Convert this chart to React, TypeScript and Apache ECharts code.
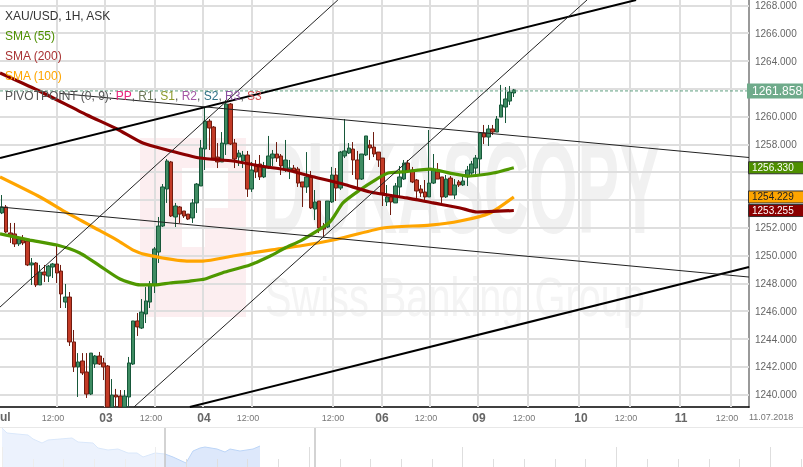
import React, { useEffect, useRef } from "react";
import * as echarts from "echarts";

const FONT = '"Liberation Sans", Arial, sans-serif';

// [open, close, low, high] per hourly bar
const ohlc: number[][] = [
  [1253.08,1253.51,1253.00,1254.37],[1253.51,1251.71,1251.64,1253.65],[1251.64,1251.49,1250.92,1252.36],[1251.57,1250.85,1250.63,1252.36],
  [1250.85,1251.21,1250.70,1251.35],[1251.13,1250.92,1250.77,1251.49],[1251.06,1249.34,1249.26,1251.13],[1249.34,1249.48,1247.90,1249.84],
  [1249.48,1247.90,1247.75,1249.55],[1247.90,1248.83,1247.90,1249.34],[1248.83,1248.62,1248.11,1249.34],[1248.54,1249.26,1248.11,1249.34],
  [1249.19,1249.41,1248.40,1249.48],[1249.41,1248.76,1248.04,1250.77],[1248.90,1247.25,1246.24,1249.34],[1246.67,1247.03,1246.24,1247.97],
  [1247.03,1243.80,1243.51,1247.39],[1243.80,1242.00,1241.64,1244.66],[1242.00,1242.36,1239.84,1243.00],[1242.43,1241.57,1241.42,1243.00],
  [1241.64,1240.05,1239.77,1243.00],[1240.05,1243.00,1239.98,1243.00],[1242.21,1242.79,1241.93,1242.86],[1242.79,1242.21,1242.14,1243.08],
  [1242.29,1242.00,1241.06,1242.65],[1242.07,1237.47,1237.20,1242.14],[1237.83,1239.98,1237.50,1241.13],[1239.98,1239.84,1238.90,1240.42],
  [1239.91,1238.00,1237.80,1240.34],[1238.00,1239.91,1237.80,1240.34],[1239.84,1242.29,1239.12,1242.72],[1242.21,1245.31,1242.14,1245.31],
  [1245.31,1244.88,1244.23,1245.88],[1244.80,1245.95,1244.73,1246.89],[1245.81,1246.75,1245.16,1247.75],[1246.67,1247.97,1246.24,1248.18],
  [1247.90,1250.49,1247.32,1250.63],[1250.27,1252.14,1249.48,1252.79],[1252.14,1254.95,1252.07,1255.16],[1254.80,1256.82,1253.80,1256.96],
  [1256.75,1252.86,1252.79,1256.82],[1252.79,1253.58,1252.07,1253.80],[1253.51,1253.00,1252.36,1253.58],[1253.22,1252.86,1252.72,1253.22],
  [1253.00,1252.64,1252.57,1253.00],[1252.72,1253.80,1252.36,1254.08],[1253.80,1255.16,1253.08,1255.23],[1255.02,1257.75,1255.02,1258.33],
  [1257.68,1259.69,1256.17,1260.63],[1259.69,1259.19,1257.61,1259.84],[1259.26,1257.03,1256.89,1259.33],[1257.10,1256.75,1256.31,1258.11],
  [1256.75,1258.11,1256.75,1258.90],[1258.04,1260.92,1257.25,1261.20],[1260.92,1258.04,1257.97,1260.99],[1258.11,1256.96,1256.31,1258.40],
  [1257.10,1257.39,1256.46,1257.61],[1256.82,1257.25,1256.31,1257.54],[1257.25,1254.80,1254.23,1257.54],[1254.80,1256.17,1254.59,1256.75],
  [1256.53,1256.03,1255.59,1256.89],[1256.60,1255.67,1255.45,1257.25],[1255.67,1256.39,1255.59,1256.75],[1256.31,1257.18,1256.24,1258.62],
  [1257.03,1257.32,1256.46,1257.61],[1257.32,1257.03,1256.75,1258.18],[1257.18,1256.46,1255.81,1257.32],[1256.17,1256.89,1256.03,1258.33],
  [1256.10,1256.31,1255.52,1256.89],[1256.31,1256.10,1255.95,1256.53],[1256.24,1255.23,1254.95,1256.39],[1255.31,1254.95,1253.51,1255.31],
  [1254.95,1255.67,1254.52,1257.46],[1255.67,1253.44,1253.36,1256.10],[1253.36,1253.87,1252.57,1254.73],[1253.94,1252.00,1251.64,1253.94],
  [1252.07,1251.92,1251.35,1252.36],[1252.07,1253.94,1252.00,1253.94],[1253.87,1255.81,1253.80,1256.39],[1255.81,1254.87,1253.94,1256.31],
  [1254.87,1257.46,1254.73,1257.54],[1257.18,1257.54,1257.03,1259.84],[1257.39,1257.75,1257.32,1258.11],[1257.68,1256.89,1255.81,1258.18],
  [1256.89,1255.52,1254.80,1257.54],[1255.52,1257.32,1255.45,1257.32],[1257.25,1258.62,1257.18,1258.62],[1257.97,1257.75,1256.89,1258.33],
  [1257.82,1257.32,1257.10,1258.90],[1257.46,1256.89,1256.39,1257.46],[1257.03,1254.52,1253.58,1257.03],[1253.87,1254.23,1253.58,1255.09],
  [1254.23,1253.87,1252.93,1254.37],[1253.80,1255.02,1253.80,1255.23],[1254.95,1255.67,1254.23,1256.46],[1255.52,1256.67,1255.45,1256.89],
  [1256.67,1256.03,1255.95,1256.89],[1256.17,1255.31,1255.23,1256.39],[1255.45,1254.66,1254.01,1255.52],[1254.80,1254.52,1254.23,1255.09],
  [1254.59,1254.23,1253.87,1255.45],[1254.23,1255.23,1254.23,1259.05],[1255.23,1256.17,1255.16,1257.32],[1256.03,1255.52,1255.52,1256.67],
  [1255.67,1254.23,1253.80,1255.67],[1254.23,1255.52,1254.16,1255.81],[1255.59,1254.37,1254.37,1255.74],[1254.37,1255.09,1254.08,1255.52],
  [1255.31,1255.09,1254.95,1255.45],[1255.09,1255.38,1255.02,1255.67],[1255.67,1256.17,1255.02,1256.46],[1255.95,1256.60,1255.81,1256.82],
  [1256.31,1257.03,1255.81,1257.25],[1256.96,1258.83,1255.88,1258.90],[1258.83,1258.54,1258.04,1259.41],[1258.54,1259.12,1257.90,1259.41],
  [1259.12,1258.90,1258.69,1259.41],[1258.90,1259.84,1258.90,1260.05],[1259.98,1260.85,1259.98,1262.29],[1260.70,1261.28,1259.55,1262.14],
  [1261.13,1261.78,1260.85,1262.21],[1261.71,1261.93,1261.42,1262.00],
];

const sma55: number[][] = [[-0.47,1251.57],[6.6,1251.13],[13,1250.77],[18.4,1250.20],[23.2,1249.26],[27.9,1248.33],[32.6,1247.90],[36.2,1247.90],[39.7,1248.04],[44.4,1248.18],[48,1248.33],[52.7,1248.83],[58.6,1249.34],[63.4,1249.98],[66.9,1250.56],[70.9,1251.13],[77.5,1252.43],[80.6,1253.80],[84.6,1254.73],[88.2,1255.45],[91.3,1255.95],[94.8,1256.03],[101.2,1256.24],[105.9,1255.95],[110.2,1255.74],[113,1255.81],[116.1,1255.95],[121,1256.33]];
const sma200: number[][] = [[-0.47,1263.15],[8.3,1261.93],[20.1,1260.13],[27.2,1259.12],[33.3,1258.11],[39,1257.61],[46.8,1257.03],[54.6,1256.82],[61,1256.46],[67.4,1256.17],[72.8,1255.74],[80.6,1255.16],[87,1254.59],[95.7,1254.16],[101.9,1253.80],[108.3,1253.44],[112.3,1253.15],[121,1253.255]];
const sma100: number[][] = [[-0.47,1255.67],[9,1254.23],[15.4,1253.08],[21.5,1252.07],[27.2,1251.13],[31,1250.41],[34.3,1250.06],[43.7,1249.62],[47.5,1249.62],[54.6,1249.98],[63.4,1250.41],[70.4,1250.70],[78.3,1251.13],[90.1,1252.00],[101.2,1252.21],[108.3,1252.50],[115.4,1253.08],[121,1254.229]];

const thickLines: number[][][] = [
  [[-0.47,1257.03],[149.9,1268.40]],
  [[44.4,1239.12],[176.6,1249.19]],
];
const thinLines: number[][][] = [
  [[-0.47,1253.51],[176.6,1248.47]],
  [[13.7,1261.68],[176.6,1257.07]],
  [[-0.47,1246.31],[79.4,1268.40]],
  [[31.2,1239.12],[138.3,1268.40]],
];

const lastPrice = 1261.858;
const barMin = -0.47;
const barMax = 176.6;
const priceFloor = 1239.12;
const priceTop = 1268.4;
const priceGrid = [1240,1242,1244,1246,1248,1250,1252,1254,1256,1258,1260,1262,1264,1266,1268];
const priceLabels = [1240,1242,1244,1246,1248,1250,1252,1258,1260,1264,1266,1268];
const xGridBars = [13.0,24.35,36.17,47.52,59.1,78.25,89.83,101.18,112.53,124.35,136.4,148.46,160.28,172.34];
const xLabelBars = [12.06,24.59,35.22,47.75,58.16,78.25,89.83,100.24,112.77,123.4,136.88,147.52,160.52,171.4];
const xLabelTexts = ["12:00","03","12:00","04","12:00","12:00","06","12:00","09","12:00","10","12:00","11","12:00"];

const navX = [2,7,17,28,33,42,48,60,72,78,93,98,108,118,128,137,143,155,165,173,186,193,200,205,217,225,230,240,253,260];
const navY = [39,34,33,32,28,24,27,28,29,25,24,19,17,18,14,14,10,14,13,10,4,16,19,20,18,15,18,16,18,21];
const navMinor = [33,63,94,125,186,217,247,278,340,370,401,432,493,524,555,585,647,678,709,739,801];
const navMajor = [2,155,309,462,616,770];

const tags = [
  { value: 1256.33, fill: "#4e8f00", text: "#ffffff" },
  { value: 1254.229, fill: "#ffa500", text: "#222222" },
  { value: 1253.255, fill: "#8b0000", text: "#ffffff" },
];

const UP = "#3e8c62", UP_B = "#17583a", DOWN = "#c23a26", DOWN_B = "#701c10";
const GRID = "#dedede";

export default function App() {
  const ref = useRef<HTMLDivElement>(null);
  useEffect(() => {
    const chart = echarts.init(ref.current!, undefined, { renderer: "svg" });
    const lineSeries = (data: number[][], color: string, width: number, extra: any = {}) => ({
      type: "line", xAxisIndex: 0, yAxisIndex: 0, data, showSymbol: false, symbol: "none",
      lineStyle: { color, width }, silent: true, z: 5, ...extra,
    });
    const clampFloor = (v: number) => Math.max(v, priceFloor);
    chart.setOption({
      animation: false,
      grid: [
        { left: 0, right: 54, top: 0, bottom: 60 },
        { left: 0, right: 0, top: 428, bottom: 0 },
      ],
      xAxis: [
        {
          type: "value", gridIndex: 0, min: barMin, max: barMax,
          axisLine: { show: true, onZero: false, lineStyle: { color: "#000", width: 1.5 } },
          axisTick: { show: false },
          splitLine: { show: false },
          axisLabel: {
            customValues: xLabelBars, margin: 4, showMinLabel: true, showMaxLabel: true,
            formatter: (v: number) => {
              const t = xLabelTexts[xLabelBars.indexOf(v)] ?? "";
              return t.includes(":") ? `{h|${t}}` : `{d|${t}}`;
            },
            rich: {
              h: { fontFamily: FONT, fontSize: 9, color: "#777", lineHeight: 14 },
              d: { fontFamily: FONT, fontSize: 12, fontWeight: "bold", color: "#666", lineHeight: 14 },
            },
          },
        },
        {
          type: "value", gridIndex: 1, min: 0, max: 803, position: "bottom",
          axisLine: { show: false }, splitLine: { show: false }, axisLabel: { show: false }, axisTick: { show: false },
        },
      ],
      yAxis: [
        {
          type: "value", gridIndex: 0, position: "right", min: priceFloor, max: priceTop,
          axisLine: { show: true, onZero: false, lineStyle: { color: "#999", width: 2 } },
          axisTick: { show: false },
          splitLine: { show: false },
          axisLabel: {
            customValues: priceLabels, margin: 6, color: "#666", fontFamily: FONT, fontSize: 10,
            formatter: (v: number) => v.toFixed(3),
          },
        },
        {
          type: "value", gridIndex: 1, min: 0, max: 39, show: false, splitLine: { show: false },
        },
      ],
      series: [
        {
          type: "candlestick", xAxisIndex: 0, yAxisIndex: 0, barWidth: 4, silent: true, z: 3,
          data: ohlc.map((c, i) => [i, ...c.map(clampFloor)]),
          itemStyle: { color: UP, color0: DOWN, borderColor: UP_B, borderColor0: DOWN_B, borderWidth: 1 },
        },
        lineSeries(sma100, "#ffa500", 3.2, { smooth: 0.2 }),
        lineSeries(sma55, "#4f9800", 3.2, { smooth: 0.2 }),
        lineSeries(sma200, "#8b0000", 3.2, { smooth: 0.2 }),
        lineSeries([[barMin, lastPrice], [barMax, lastPrice]], "#5f9f7f", 1, { lineStyle: { color: "#5f9f7f", width: 1, type: [3, 2] } }),
        ...thickLines.map((l) => lineSeries(l, "#000", 2, { z: 6 })),
        ...thinLines.map((l) => lineSeries(l, "#222", 1, { z: 6 })),
        {
          type: "line", xAxisIndex: 1, yAxisIndex: 1, showSymbol: false, symbol: "none", silent: true, z: 2,
          data: navX.map((x, i) => [x, navY[i]]),
          lineStyle: { color: "#bcd5f7", width: 1 }, areaStyle: { color: "#dde8fb", opacity: 1 },
        },
      ],
    });

    const yOf = (v: number) => chart.convertToPixel({ yAxisIndex: 0 }, v) as number;
    const xOf = (v: number) => chart.convertToPixel({ xAxisIndex: 0 }, v) as number;
    const navXOf = (v: number) => chart.convertToPixel({ xAxisIndex: 1 }, v) as number;
    const navYOf = (v: number) => chart.convertToPixel({ yAxisIndex: 1 }, v) as number;
    const bar = (x: number, y: number, width: number, height: number, z: number) => ({
      type: "rect", z, silent: true, shape: { x, y, width, height }, style: { fill: GRID },
    });
    const gridEls = [
      ...priceGrid.map((v) => bar(0, Math.round(yOf(v)) - 1, xOf(barMax), 2, 1)),
      ...xGridBars.map((b) => bar(Math.round(xOf(b)) - 1, 0, 2, yOf(priceFloor), 1)),
      ...navMinor.map((x) => bar(Math.round(navXOf(x)), navYOf(8), 1, navYOf(0) - navYOf(8), 20)),
      ...navMajor.map((x) => bar(Math.round(navXOf(x)), navYOf(20), 1, navYOf(0) - navYOf(20), 20)),
    ];

    const tagEls: any[] = [];
    tags.forEach((t) => {
      const y = yOf(t.value);
      tagEls.push({ type: "rect", z: 60, shape: { x: 748.5, y: y - 6, width: 55, height: 12 }, style: { fill: t.fill, stroke: "#333", lineWidth: 1 } });
      tagEls.push({ type: "text", z: 61, x: 752, y, style: { text: t.value.toFixed(3), fill: t.text, font: `10px ${FONT}`, verticalAlign: "middle" } });
    });
    const ly = yOf(lastPrice);
    tagEls.push({ type: "rect", z: 60, shape: { x: 747, y: ly - 7.5, width: 56, height: 15 }, style: { fill: "#6fab8b" } });
    tagEls.push({ type: "text", z: 61, x: 752, y: ly, style: { text: lastPrice.toFixed(3), fill: "#fff", font: `12px ${FONT}`, verticalAlign: "middle" } });

    const legend = (text: string, y: number, fill: string) => ({
      type: "text", z: 40, x: 5, y, style: { text, fill, font: `12px ${FONT}`, verticalAlign: "middle" },
    });

    chart.setOption({
      graphic: {
        elements: [
          { type: "polygon", z: -10, silent: true, shape: { points: [[140,138],[246,138],[246,317],[140,317],[140,168],[182,168],[182,247],[205,247],[205,208],[228,208],[228,168],[140,168]] }, style: { fill: "#fceef0" } },
          { type: "text", z: -9, silent: true, x: 262, y: 188, scaleX: 0.48, style: { text: "DUKASCOPY", fill: "#f1f1f1", font: `bold 130px ${FONT}`, verticalAlign: "middle" } },
          { type: "text", z: -9, silent: true, x: 265, y: 296, scaleX: 0.71, style: { text: "Swiss Banking Group", fill: "#f4f4f4", font: `56px ${FONT}`, verticalAlign: "middle" } },
          ...gridEls,
          legend("XAU/USD, 1H, ASK", 16, "#333"),
          legend("SMA (55)", 36, "#4e8f00"),
          legend("SMA (200)", 56, "#a83232"),
          legend("SMA (100)", 76, "#ffa500"),
          {
            type: "text", z: 40, x: 5, y: 96,
            style: {
              text: "{a|PIVOTPOINT (0, 9): }{pp|PP}{a|, }{r1|R1}{a|, }{s1|S1}{a|, }{r2|R2}{a|, }{s2|S2}{a|, }{r3|R3}{a|, }{s3|S3}",
              font: `12px ${FONT}`, verticalAlign: "middle",
              rich: {
                a: { fill: "#555", font: `12px ${FONT}` },
                pp: { fill: "#e8267c", font: `12px ${FONT}` },
                r1: { fill: "#6f7a5a", font: `12px ${FONT}` },
                s1: { fill: "#8c9a2c", font: `12px ${FONT}` },
                r2: { fill: "#a557a5", font: `12px ${FONT}` },
                s2: { fill: "#2f7086", font: `12px ${FONT}` },
                r3: { fill: "#8a4fa0", font: `12px ${FONT}` },
                s3: { fill: "#d45757", font: `12px ${FONT}` },
              },
            },
          },
          { type: "text", z: 40, x: 0, y: 417, style: { text: "ul", fill: "#666", font: `bold 12px ${FONT}`, verticalAlign: "middle" } },
          { type: "text", z: 40, x: 749, y: 417, style: { text: "11.07.2018", fill: "#777", font: `9px ${FONT}`, verticalAlign: "middle" } },
          { type: "line", z: 1, shape: { x1: 0, y1: 427.5, x2: 803, y2: 427.5 }, style: { stroke: "#e8e8e8", lineWidth: 1 } },
          { type: "rect", z: 30, silent: true, shape: { x: 0, y: 428, width: 165, height: 39 }, style: { fill: "rgba(255,255,255,0.45)" } },
          { type: "line", z: 31, shape: { x1: 165, y1: 428, x2: 165, y2: 467 }, style: { stroke: "#c4c4c4", lineWidth: 1.5 } },
          { type: "line", z: 31, shape: { x1: 315, y1: 428, x2: 315, y2: 467 }, style: { stroke: "#c4c4c4", lineWidth: 1.5 } },
          ...tagEls,
        ],
      },
    });
    return () => chart.dispose();
  }, []);
  return <div ref={ref} style={{ position: "fixed", left: 0, top: 0, width: 803, height: 467 }} />;
}
